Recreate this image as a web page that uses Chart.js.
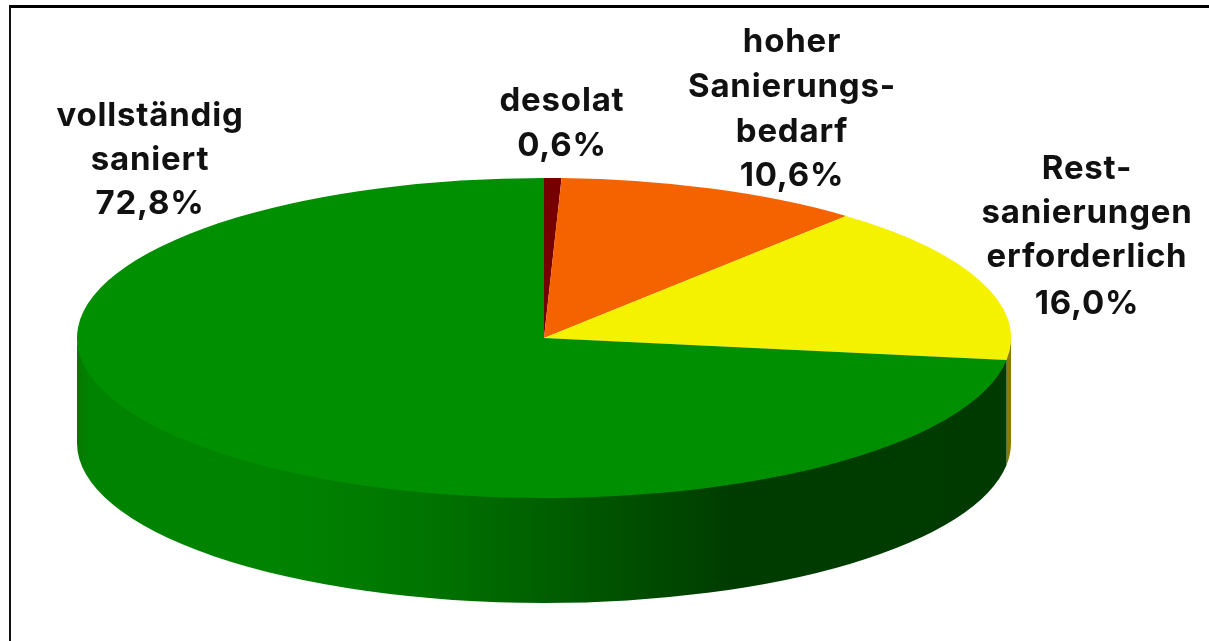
<!DOCTYPE html>
<html>
<head>
<meta charset="utf-8">
<script src="https://cdn.jsdelivr.net/npm/chart.js@4"></script>
<style>
    html, body { margin: 0; background: #fff; overflow: hidden; }
    #frame { position: absolute; left: 9px; top: 5px; right: 0; bottom: 0; border-left: 2px solid #111; border-top: 3px solid #000; }
    #mainChart { position: absolute; left: 0; top: 0; }
</style>
</head>
<body>
<div id="frame"></div>
<canvas id="mainChart" width="1209" height="641"></canvas>
<script>
var categories = ["desolat", "hoher Sanierungsbedarf", "Restsanierungen erforderlich", "vollständig saniert"];
var shares = [0.6, 10.6, 16.0, 72.8];
var topColors = ["#760000", "#f56300", "#f5f200", "#008f00"];
var labelLines = [
    ["desolat", "0,6%"],
    ["hoher", "Sanierungs-", "bedarf", "10,6%"],
    ["Rest-", "sanierungen", "erforderlich", "16,0%"],
    ["vollständig", "saniert", "72,8%"],
];

var tilt = 0.3426;
var depth = 105;
var labelPos = [
    { x: 562, y: [101, 146] },
    { x: 792, y: [42, 87, 132, 176] },
    { x: 1087, y: [169, 213, 257, 304] },
    { x: 150, y: [116, 160, 204] },
];

function sideFill(ctx, i, cx, r) {
    if (i == 2) return "#8a7a00";
    var g = ctx.createLinearGradient(cx - r, 0, cx + r, 0);
    g.addColorStop(0, "#067800");
    g.addColorStop(0.015, "#008400");
    g.addColorStop(0.2, "#008400");
    g.addColorStop(0.3, "#007c00");
    g.addColorStop(0.4, "#007000");
    g.addColorStop(0.5, "#005f00");
    g.addColorStop(0.6, "#004d00");
    g.addColorStop(0.7, "#003c00");
    g.addColorStop(1, "#003a00");
    return g;
}

var pieTilt = {
    id: "pieTilt",
    beforeDatasetsDraw: function (chart) {
        var ctx = chart.ctx;
        var arcs = chart.getDatasetMeta(0).data;
        // the side wall, only the front half of the disc can be seen
        arcs.forEach(function (arc, i) {
            var p = arc.getProps(["x", "y", "startAngle", "endAngle", "outerRadius"]);
            var from = p.startAngle, to = Math.min(p.endAngle, Math.PI);
            if (from < 0) from = 0;
            if (to <= from) return;
            var ry = p.outerRadius * tilt;
            ctx.beginPath();
            // starts a little higher so no light seam shows under the top face
            ctx.ellipse(p.x, p.y - 2, p.outerRadius, ry, 0, from, to);
            ctx.ellipse(p.x, p.y + depth, p.outerRadius, ry, 0, to, from, true);
            ctx.closePath();
            ctx.fillStyle = sideFill(ctx, i, p.x, p.outerRadius);
            ctx.fill();
        });
        var c = arcs[0].getProps(["x", "y"]);
        ctx.save();
        ctx.translate(c.x, c.y);
        ctx.scale(1, tilt);
        ctx.translate(-c.x, -c.y);
    },
    afterDatasetsDraw: function (chart) {
        chart.ctx.restore();
    },
    afterDraw: function (chart) {
        var ctx = chart.ctx;
        ctx.save();
        ctx.font = "bold 33px Inter";
        ctx.letterSpacing = "0.8px";
        ctx.fillStyle = "#111";
        ctx.textAlign = "center";
        ctx.textBaseline = "middle";
        labelLines.forEach(function (lines, i) {
            lines.forEach(function (line, j) {
                ctx.fillText(line, labelPos[i].x, labelPos[i].y[j]);
            });
        });
        ctx.restore();
    },
};

var ctx = document.getElementById("mainChart").getContext("2d");
var myChart = new Chart(ctx, {
    type: "pie",
    data: {
        labels: categories,
        datasets: [
            {
                data: shares,
                backgroundColor: topColors,
                borderWidth: 0,
                clip: false,
                radius: 467,
            },
        ],
    },
    options: {
        responsive: false,
        animation: false,
        layout: {
            padding: { right: 121, top: 35 },
        },
        plugins: {
            legend: {
                display: false
            },
            tooltip: {
                enabled: false
            },
        },
    },
    plugins: [pieTilt],
});
</script>
</body>
</html>
